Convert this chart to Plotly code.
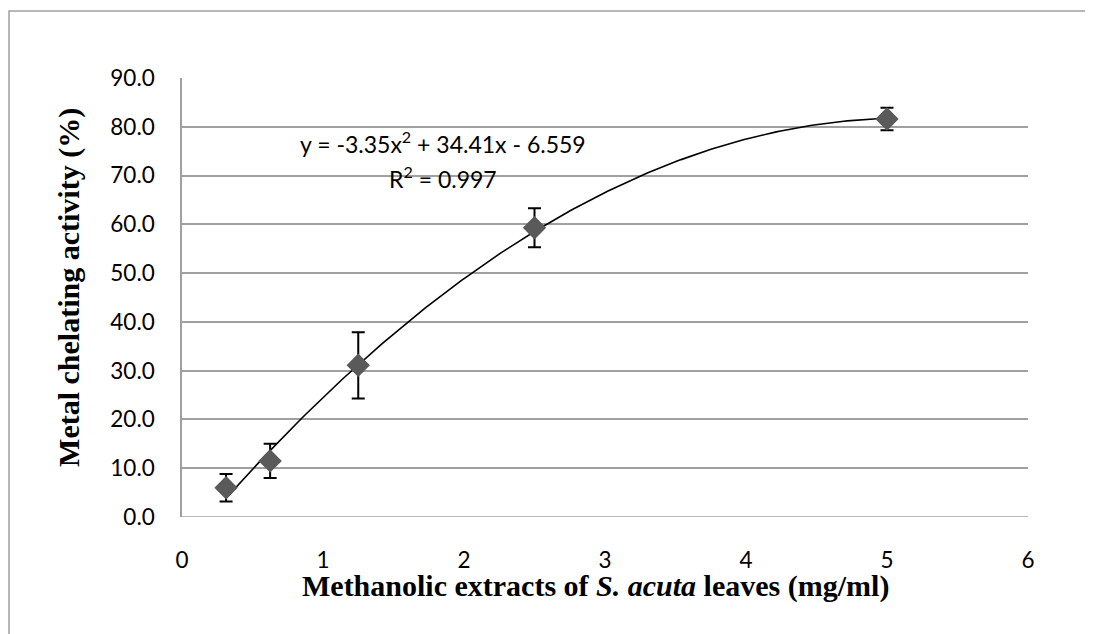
import numpy as np
import plotly.graph_objects as go

# Data
conc = [0.3125, 0.625, 1.25, 2.5, 5.0]
activity = [6.0, 11.5, 31.1, 59.3, 81.6]
err = [2.8, 3.5, 6.8, 4.0, 2.3]
trend_coeffs = [-3.35, 34.41, -6.559]  # from the displayed equation
y_ticks = [0, 10, 20, 30, 40, 50, 60, 70, 80, 90]
x_ticks = [0, 1, 2, 3, 4, 5, 6]

xs = np.linspace(min(conc), max(conc), 200)
ys = np.polyval(trend_coeffs, xs)

fig = go.Figure()
fig.add_trace(go.Scatter(x=xs, y=ys, mode="lines",
                         line=dict(color="black", width=1.6),
                         hoverinfo="skip", showlegend=False))
fig.add_trace(go.Scatter(x=conc, y=activity, mode="markers",
                         marker=dict(symbol="diamond", size=18, color="#5a5a5a"),
                         error_y=dict(type="data", array=err, visible=True,
                                      color="black", thickness=2, width=6.5),
                         showlegend=False))

tick_font = dict(family="Lato, 'Open Sans', sans-serif", size=22.5, color="black")
title_font = dict(family="'Liberation Serif', 'Times New Roman', serif", size=30, color="black")

fig.update_layout(
    width=1085, height=626,
    margin=dict(l=174, r=65, t=70, b=117),
    paper_bgcolor="white", plot_bgcolor="white",
    xaxis=dict(range=[0, 6], tickvals=x_ticks, ticktext=[str(v) for v in x_ticks],
               showgrid=False, zeroline=False, showline=False, automargin=False,
               ticks="", tickfont=tick_font, ticklabelstandoff=27),
    yaxis=dict(range=[0, 90], tickvals=y_ticks, ticktext=[f"{v:.1f}" for v in y_ticks],
               showgrid=True, gridcolor="#a0a0a0", gridwidth=1.5, automargin=False,
               zeroline=False, showline=True, linecolor="#a0a0a0", linewidth=1.5,
               ticks="", tickfont=tick_font, ticklabelstandoff=21),
)

# bottom gridline at 0 (acts as x axis)
fig.add_shape(type="line", xref="paper", yref="y", x0=0, x1=1, y0=0, y1=0,
              line=dict(color="#a0a0a0", width=1.5))

# outer chart border (partly cropped in reference)
fig.add_shape(type="rect", xref="paper", yref="paper",
              x0=-0.2045, x1=1.2, y0=-0.4, y1=1.1526,
              line=dict(color="#a0a0a0", width=1.5), fillcolor="rgba(0,0,0,0)")

# axis titles
fig.add_annotation(xref="paper", yref="paper", x=0.489, y=-0.158,
                   xanchor="center", yanchor="middle",
                   text="<b>Methanolic extracts of <i>S. acuta</i> leaves (mg/ml)</b>",
                   showarrow=False, font=title_font)
fig.add_annotation(xref="paper", yref="paper", x=-0.1336, y=0.524,
                   xanchor="center", yanchor="middle",
                   text="<b>Metal chelating activity (%)</b>", textangle=-90,
                   showarrow=False, font=title_font)

eq_font = dict(family="Lato, 'Open Sans', sans-serif", size=23, color="black")
fig.add_annotation(x=1.85, y=76.7, xref="x", yref="y",
                   xanchor="center", yanchor="middle",
                   text="y = -3.35x<sup>2</sup> + 34.41x - 6.559",
                   showarrow=False, font=eq_font)
fig.add_annotation(x=1.85, y=69.6, xref="x", yref="y",
                   xanchor="center", yanchor="middle",
                   text="R<sup>2</sup> = 0.997", showarrow=False, font=eq_font)

fig.write_html("out.html")
